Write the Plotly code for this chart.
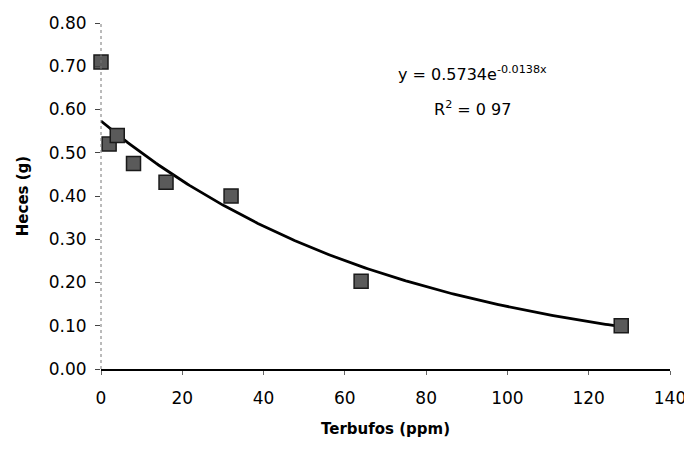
import numpy as np
import plotly.graph_objects as go

# Data
terbufos_ppm = [0, 2, 4, 8, 16, 32, 64, 128]
heces_g = [0.71, 0.52, 0.54, 0.475, 0.432, 0.40, 0.203, 0.10]

# Trendline coefficients shown in the chart
fit_a = 0.5734
fit_b = -0.0138
fit_r2 = "0 97"

x_ticks = [0, 20, 40, 60, 80, 100, 120, 140]
y_ticks = [0.0, 0.1, 0.2, 0.3, 0.4, 0.5, 0.6, 0.7, 0.8]

xf = np.linspace(min(terbufos_ppm), max(terbufos_ppm), 200)
yf = fit_a * np.exp(fit_b * xf)

fig = go.Figure()
fig.add_trace(go.Scatter(
    x=xf, y=yf, mode="lines",
    line=dict(color="black", width=2.8),
    hoverinfo="skip", showlegend=False,
))
fig.add_trace(go.Scatter(
    x=terbufos_ppm, y=heces_g, mode="markers",
    marker=dict(symbol="square", size=14, color="#5a5a5a",
                line=dict(color="#1a1a1a", width=1.5)),
    cliponaxis=False, showlegend=False,
))

font_family = "DejaVu Sans, Verdana, sans-serif"

# page body has an 8px margin: the figure is offset by 8px
fig.update_layout(
    width=684, height=441,
    margin=dict(l=93, r=22, t=15, b=80),
    paper_bgcolor="white", plot_bgcolor="white",
    font=dict(family=font_family, color="black", size=17),
    xaxis=dict(
        range=[0, 140], tickvals=x_ticks, showgrid=False, zeroline=False,
        showline=True, linecolor="black", linewidth=1.5,
        ticks="outside", ticklen=4, tickcolor="#666",
        tickfont=dict(size=17), ticklabelstandoff=9,
        automargin=False,
        title=dict(text="<b>Terbufos (ppm)</b>", font=dict(size=15), standoff=16),
    ),
    yaxis=dict(
        range=[0, 0.8], tickvals=y_ticks, tickformat=".2f",
        showgrid=False, zeroline=False, showline=False,
        ticks="outside", ticklen=5, tickcolor="#444",
        tickfont=dict(size=17), ticklabelstandoff=5,
        automargin=False,
        title=dict(text="<b>Heces (g)</b>", font=dict(size=15), standoff=16),
    ),
    shapes=[dict(type="line", xref="paper", yref="paper", x0=0, x1=0, y0=0, y1=1,
                 line=dict(color="#777", width=1, dash="dot"))],
    annotations=[
        dict(xref="x", yref="y", x=91.5, y=0.684, showarrow=False,
             text="y = 0.5734e<sup>-0.0138x</sup>", font=dict(size=16)),
        dict(xref="x", yref="y", x=91.5, y=0.603, showarrow=False,
             text="R<sup>2</sup> = " + fit_r2, font=dict(size=16)),
    ],
)

fig.write_html("out.html")
